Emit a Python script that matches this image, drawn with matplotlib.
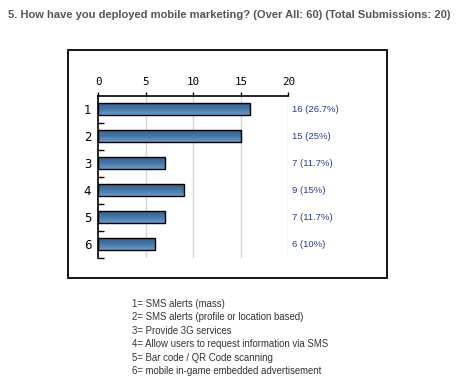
import matplotlib.pyplot as plt
import numpy as np
from matplotlib.colors import LinearSegmentedColormap
from matplotlib.patches import Rectangle

title = "5. How have you deployed mobile marketing? (Over All: 60) (Total Submissions: 20)"
categories = ["1", "2", "3", "4", "5", "6"]
counts = [16, 15, 7, 9, 7, 6]
percents = ["26.7%", "25%", "11.7%", "15%", "11.7%", "10%"]
xticks = [0, 5, 10, 15, 20]
legend_lines = [
    "1= SMS alerts (mass)",
    "2= SMS alerts (profile or location based)",
    "3= Provide 3G services",
    "4= Allow users to request information via SMS",
    "5= Bar code / QR Code scanning",
    "6= mobile in-game embedded advertisement",
]

W, H = 457, 386
fig = plt.figure(figsize=(W / 100, H / 100), dpi=100)
plt.rcParams["font.family"] = ["Liberation Sans", "DejaVu Sans"]

fig.text(8 / W, 1 - 15 / H, title, fontsize=8.05, fontweight="bold", color="#555555",
         va="center", ha="left")

# outer frame
fig.patches.append(Rectangle((68 / W, 1 - 278 / H), 319 / W, 228.5 / H,
                             transform=fig.transFigure, fill=False, ec="black", lw=1.3))

ax = fig.add_axes([98.3 / W, 1 - 257.7 / H, 190 / W, 162 / H])
ypos = list(range(len(categories)))
bars = ax.barh(ypos, counts, height=0.43, color="#4a7aa8", edgecolor="black",
               linewidth=1.0, zorder=3)
ax.set_xlim(0, 20)
ax.set_ylim(len(categories) - 0.5, -0.5)

# vertical gradient inside each bar (lighter at top)
cmap = LinearSegmentedColormap.from_list("bar", ["#6b9bc9", "#4677a6", "#375f8c"])
grad = np.linspace(0, 1, 64).reshape(-1, 1)
for b in bars:
    x0, y0, w, h = b.get_x(), b.get_y(), b.get_width(), b.get_height()
    im = ax.imshow(grad, cmap=cmap, aspect="auto", extent=[x0, x0 + w, y0 + h, y0],
                   origin="lower", zorder=3.5)
    im.set_clip_path(b)
    b.set_facecolor("none")
    b.set_zorder(4)
ax.set_xlim(0, 20)
ax.set_ylim(len(categories) - 0.5, -0.5)

for x in xticks[1:]:
    ax.axvline(x, color="#d6d6d6", lw=1.0, zorder=1)

ax.xaxis.tick_top()
ax.set_xticks(xticks)
ax.set_xticklabels([str(v) for v in xticks], family="DejaVu Sans Mono", fontsize=7.8)
ax.tick_params(axis="x", direction="out", length=3, width=1, pad=3)

ax.set_yticks(ypos)
ax.set_yticklabels(categories, fontsize=8.5, family="DejaVu Sans")
ax.tick_params(axis="y", which="major", length=0, pad=5)
ax.set_yticks([y + 0.5 for y in ypos], minor=True)
ax.tick_params(axis="y", which="minor", direction="in", length=4, width=1)

for side in ["right", "bottom"]:
    ax.spines[side].set_visible(False)
ax.spines["left"].set_linewidth(1.2)
ax.spines["top"].set_linewidth(1.2)

for y, c, p in zip(ypos, counts, percents):
    ax.text(20.35, y, f"{c} ({p})", fontsize=6.8, color="#2b3a8c", va="center", ha="left",
            clip_on=False)

for i, line in enumerate(legend_lines):
    fig.text(131.5 / W, 1 - (304 + i * 13.4) / H, line, fontsize=6.95, color="#333333",
             va="center", ha="left")

fig.savefig("out.png", dpi=100)
